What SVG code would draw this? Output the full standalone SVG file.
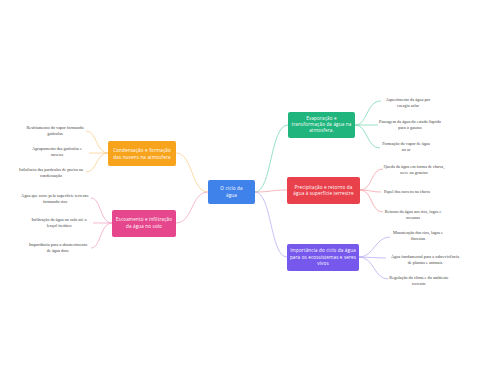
<svg xmlns="http://www.w3.org/2000/svg" width="480" height="384" viewBox="0 0 480 384">
<style>
.node text{font-family:"Open Sans","Liberation Sans",sans-serif;font-size:4.6px;fill:#fff;text-anchor:middle;letter-spacing:0.15px}
.leaf text{font-family:"Liberation Serif",serif;font-size:4.3px;fill:#444;text-anchor:middle}
.c{fill:none;stroke-width:0.8}
.g{stroke:#7fd9b4}.r{stroke:#f4a3a9}.p{stroke:#bdb0f6}.o{stroke:#fbd190}.k{stroke:#f3a6c6}
</style>
<rect width="480" height="384" fill="#fff"/>
<g id="connectors">
<path class="c g" d="M255,192 C272,192 270,125 288,125"/>
<path class="c r" d="M255,192 C272,192 270,190 287,190"/>
<path class="c p" d="M255,192 C272,192 270,257 287,257"/>
<path class="c o" d="M208,192 C191,192 193,153 176,153"/>
<path class="c k" d="M208,192 C191,192 193,223 176,223"/>
<path class="c g" d="M355,125 C368,125 366,101 381,101"/>
<path class="c g" d="M355,125 L378,125"/>
<path class="c g" d="M355,125 C368,125 366,148 380,148"/>
<path class="c r" d="M360,190 C373,190 370,169 383,169"/>
<path class="c r" d="M360,190 C370,190 372,192 381,192"/>
<path class="c r" d="M360,190 C373,190 370,212 383,212"/>
<path class="c p" d="M359,257 C374,257 375,237 390,237"/>
<path class="c p" d="M359,257 L386,258"/>
<path class="c p" d="M359,257 C374,257 374,279 388,279"/>
<path class="c o" d="M108,153 C96,153 97,131 86,131"/>
<path class="c o" d="M108,153 L89,153"/>
<path class="c o" d="M108,153 C96,153 97,172 86,172"/>
<path class="c k" d="M112,223 C100,223 101,198 91,198"/>
<path class="c k" d="M112,223 L93,223"/>
<path class="c k" d="M112,223 C100,223 101,248 91,248"/>
</g>
<g id="center" class="node"><rect x="208" y="180" width="47" height="24" rx="2" fill="#3f82ea"/><text x="231.5" y="190">O ciclo da</text><text x="231.5" y="196.5">água</text></g>
<g id="evaporacao" class="node"><rect x="288" y="112" width="67" height="26" rx="2" fill="#20b57c"/><text x="321.5" y="120">Evaporação e</text><text x="321.5" y="126">transformação da água na</text><text x="321.5" y="132">atmosfera.</text></g>
<g id="precipitacao" class="node"><rect x="287" y="177" width="73" height="27" rx="2" fill="#e8414b"/><text x="323.5" y="188.5">Precipitação e retorno da</text><text x="323.5" y="195">água à superfície terrestre</text></g>
<g id="importancia" class="node"><rect x="287" y="244" width="72" height="27" rx="2" fill="#7658ec"/><text x="323" y="252">Importância do ciclo da água</text><text x="323" y="258.5">para os ecossistemas e seres</text><text x="323" y="265">vivos</text></g>
<g id="condensacao" class="node"><rect x="108" y="141" width="68" height="25" rx="2" fill="#f7a31c"/><text x="142" y="152">Condensação e formação</text><text x="142" y="158.5">das nuvens na atmosfera</text></g>
<g id="escoamento" class="node"><rect x="112" y="210" width="64" height="27" rx="2" fill="#e6468c"/><text x="144" y="221">Escoamento e infiltração</text><text x="144" y="227.5">da água no solo</text></g>
<g id="leaf-e1" class="leaf"><text x="408" y="101">Aquecimento da água por</text><text x="408" y="107">energia solar</text></g>
<g id="leaf-e2" class="leaf"><text x="410" y="123">Passagem da água do estado líquido</text><text x="410" y="129">para o gasoso</text></g>
<g id="leaf-e3" class="leaf"><text x="406" y="145">Formação do vapor de água</text><text x="406" y="151">no ar</text></g>
<g id="leaf-p1" class="leaf"><text x="414" y="168">Queda da água em forma de chuva,</text><text x="414" y="174">neve ou granizo</text></g>
<g id="leaf-p2" class="leaf"><text x="407" y="193">Papel das nuvens na chuva</text></g>
<g id="leaf-p3" class="leaf"><text x="413" y="213">Retorno da água aos rios, lagos e</text><text x="413" y="219">oceanos</text></g>
<g id="leaf-i1" class="leaf"><text x="418" y="234">Manutenção dos rios, lagos e</text><text x="418" y="240">florestas</text></g>
<g id="leaf-i2" class="leaf"><text x="425" y="258">Água fundamental para a sobrevivência</text><text x="425" y="264">de plantas e animais</text></g>
<g id="leaf-i3" class="leaf"><text x="419" y="279">Regulação do clima e do ambiente</text><text x="419" y="285">terrestre</text></g>
<g id="leaf-c1" class="leaf"><text x="55" y="129">Resfriamento do vapor formando</text><text x="55" y="135">gotículas</text></g>
<g id="leaf-c2" class="leaf"><text x="57" y="150">Agrupamento das gotículas e</text><text x="57" y="156">nuvens</text></g>
<g id="leaf-c3" class="leaf"><text x="51" y="171">Influência das partículas de poeira na</text><text x="51" y="177">condensação</text></g>
<g id="leaf-s1" class="leaf"><text x="55" y="197">Água que corre pela superfície terrestre</text><text x="55" y="203">formando rios</text></g>
<g id="leaf-s2" class="leaf"><text x="59" y="221">Infiltração da água no solo até o</text><text x="59" y="227">lençol freático</text></g>
<g id="leaf-s3" class="leaf"><text x="58" y="246">Importância para o abastecimento</text><text x="58" y="252">de água doce</text></g>
</svg>
